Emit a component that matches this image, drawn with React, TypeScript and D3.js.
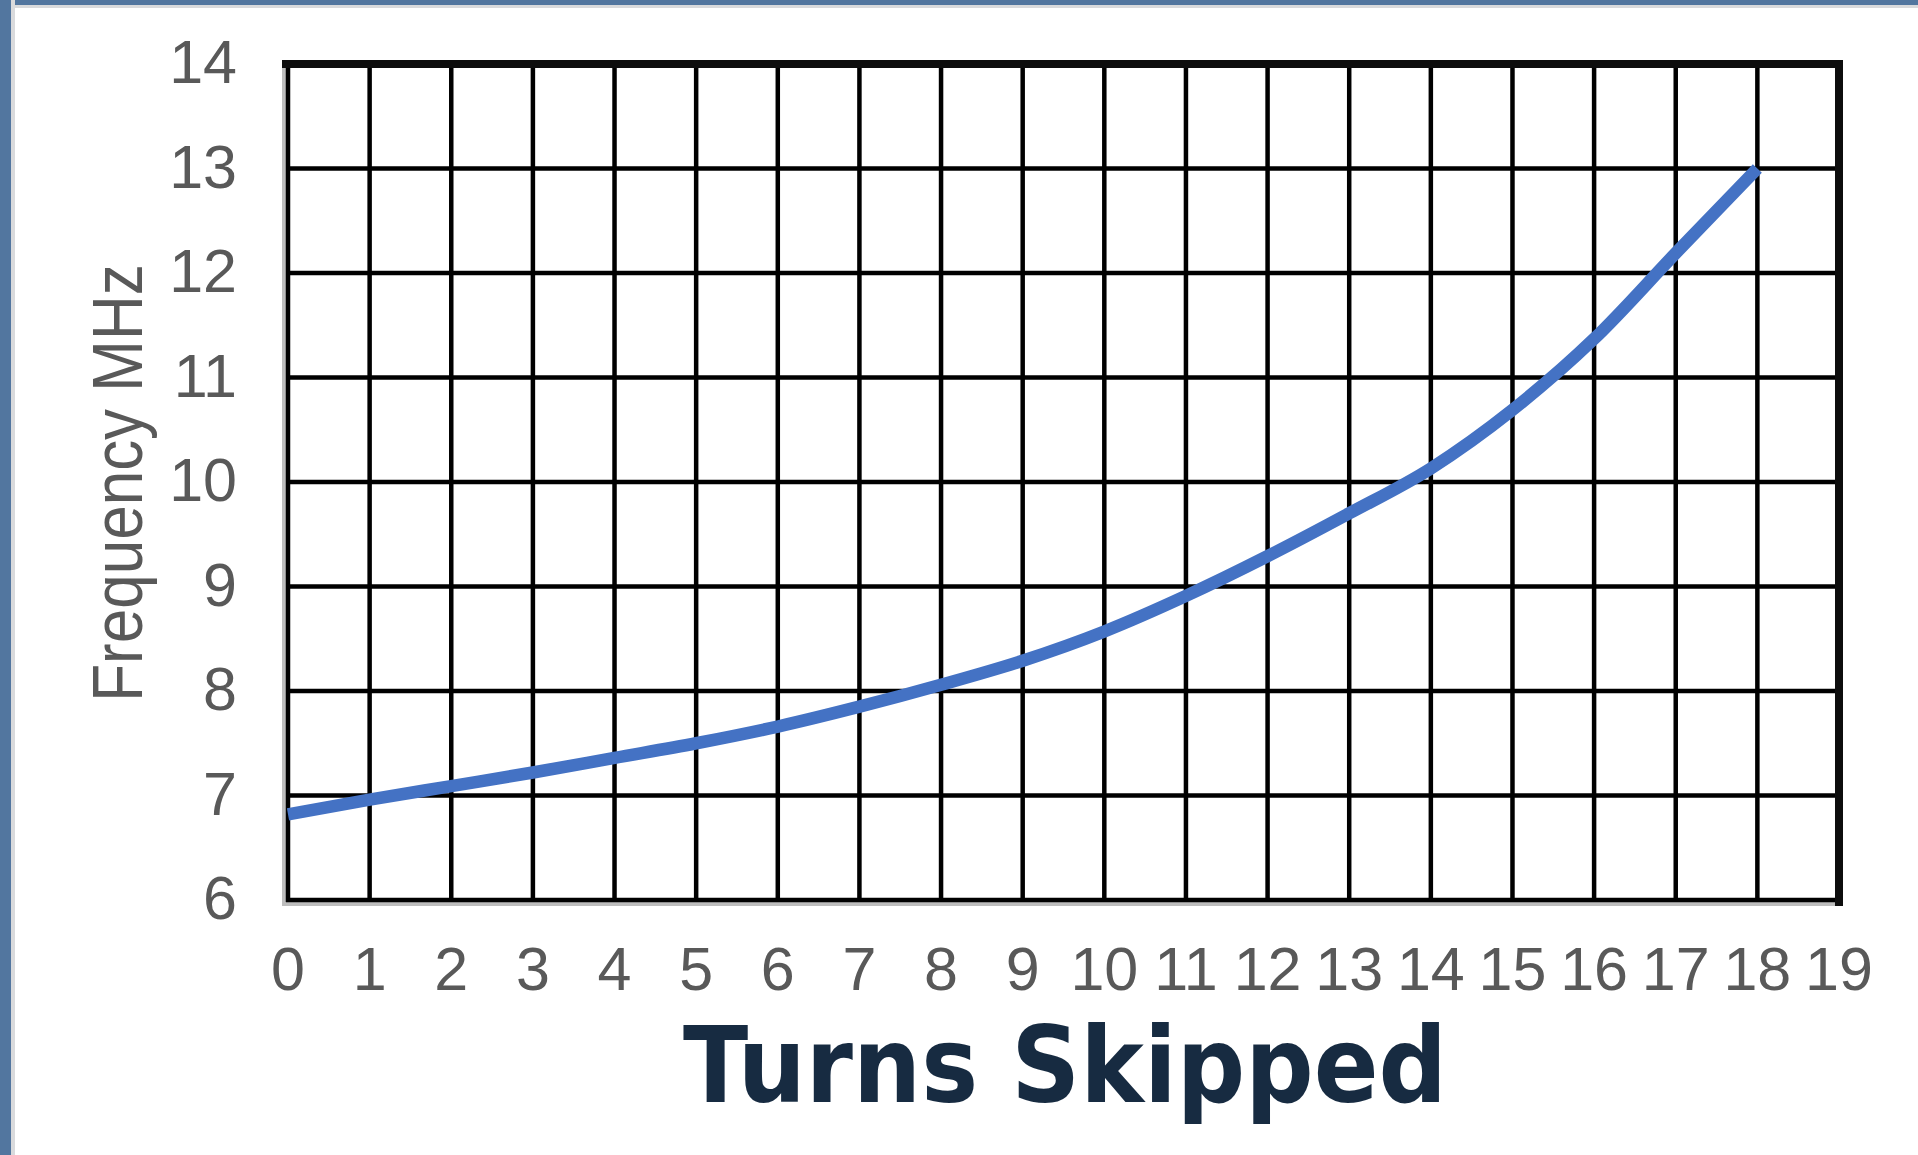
import React from 'react';
import * as d3 from 'd3';

const turns = [0, 1, 2, 3, 4, 5, 6, 7, 8, 9, 10, 11, 12, 13, 14, 15, 16, 17, 18];
const frequency = [6.82, 6.96, 7.09, 7.22, 7.36, 7.5, 7.66, 7.85, 8.06, 8.29, 8.57, 8.91, 9.29, 9.7, 10.13, 10.69, 11.37, 12.19, 13.0];
const xTickValues = [0, 1, 2, 3, 4, 5, 6, 7, 8, 9, 10, 11, 12, 13, 14, 15, 16, 17, 18, 19];
const yTickValues = [6, 7, 8, 9, 10, 11, 12, 13, 14];
const xTitle = 'Turns Skipped';
const yTitle = 'Frequency MHz';

const W = 1918;
const H = 1155;

export default function App() {
  const x = d3.scaleLinear().domain([0, 19]).range([288, 1839]);
  const y = d3.scaleLinear().domain([6, 14]).range([900, 64]);
  const pts: [number, number][] = turns.map((t, i) => [t, frequency[i]]);
  const line = d3
    .line<[number, number]>()
    .x((d) => x(d[0]))
    .y((d) => y(d[1]))
    .curve(d3.curveMonotoneX);

  const x0 = x(0), x1 = x(19), yT = y(14), yB = y(6);
  const tickFont = '"Liberation Sans", Arial, sans-serif';

  return (
    <svg
      width={W}
      height={H}
      style={{ position: 'absolute', left: 0, top: 0, display: 'block' }}
    >
      <rect x={0} y={0} width={W} height={H} fill="#ffffff" />
      {/* frame of slide */}
      <rect x={0} y={0} width={W} height={8} fill="#d9dadc" />
      <rect x={0} y={0} width={W} height={5} fill="#52769f" />
      <rect x={0} y={0} width={15} height={H} fill="#d9dadc" />
      <rect x={0} y={0} width={11} height={H} fill="#52769f" />

      {/* shadow of plot area */}
      <rect x={x0 - 6} y={yT - 4} width={4} height={yB - yT + 10} fill="#bdbdbd" />
      <rect x={x0 - 6} y={yB + 2} width={x1 - x0 + 2} height={4} fill="#bdbdbd" />

      {/* grid lines */}
      {xTickValues.map((v) => (
        <line key={'gx' + v} x1={x(v)} x2={x(v)} y1={yT} y2={yB + 2} stroke="#000" strokeWidth={4.5} />
      ))}
      {yTickValues.map((v) => (
        <line key={'gy' + v} x1={x0 - 2} x2={x1} y1={y(v)} y2={y(v)} stroke="#000" strokeWidth={4.5} />
      ))}
      {/* heavy top and right border */}
      <rect x={x0 - 6} y={yT - 4} width={x1 - x0 + 10} height={8} fill="#0d0d0d" />
      <rect x={x1 - 4} y={yT - 4} width={8} height={yB - yT + 10} fill="#0d0d0d" />

      {/* curve */}
      <path d={line(pts) || ''} fill="none" stroke="#4472c4" strokeWidth={12.5} strokeLinecap="butt" strokeLinejoin="round" />

      {/* y tick labels */}
      {yTickValues.map((v) => (
        <text
          key={'ly' + v}
          x={237}
          y={y(v) + 19}
          textAnchor="end"
          fontFamily={tickFont}
          fontSize={61}
          fill="#595959"
        >
          {v}
        </text>
      ))}
      {/* x tick labels */}
      {xTickValues.map((v) => (
        <text
          key={'lx' + v}
          x={x(v)}
          y={990}
          textAnchor="middle"
          fontFamily={tickFont}
          fontSize={61}
          fill="#595959"
        >
          {v}
        </text>
      ))}

      {/* y axis title */}
      <text
        transform="translate(142,483) rotate(-90) scale(1,1.15)"
        textAnchor="middle"
        fontFamily={tickFont}
        fontSize={62}
        fill="#595959"
      >
        {yTitle}
      </text>

      {/* x axis title */}
      <text
        x={683}
        y={1102}
        textLength={764}
        lengthAdjust="spacingAndGlyphs"
        fontFamily='"DejaVu Sans", Verdana, sans-serif'
        fontWeight="bold"
        fontSize={106}
        fill="#172b41"
      >
        {xTitle}
      </text>
    </svg>
  );
}
